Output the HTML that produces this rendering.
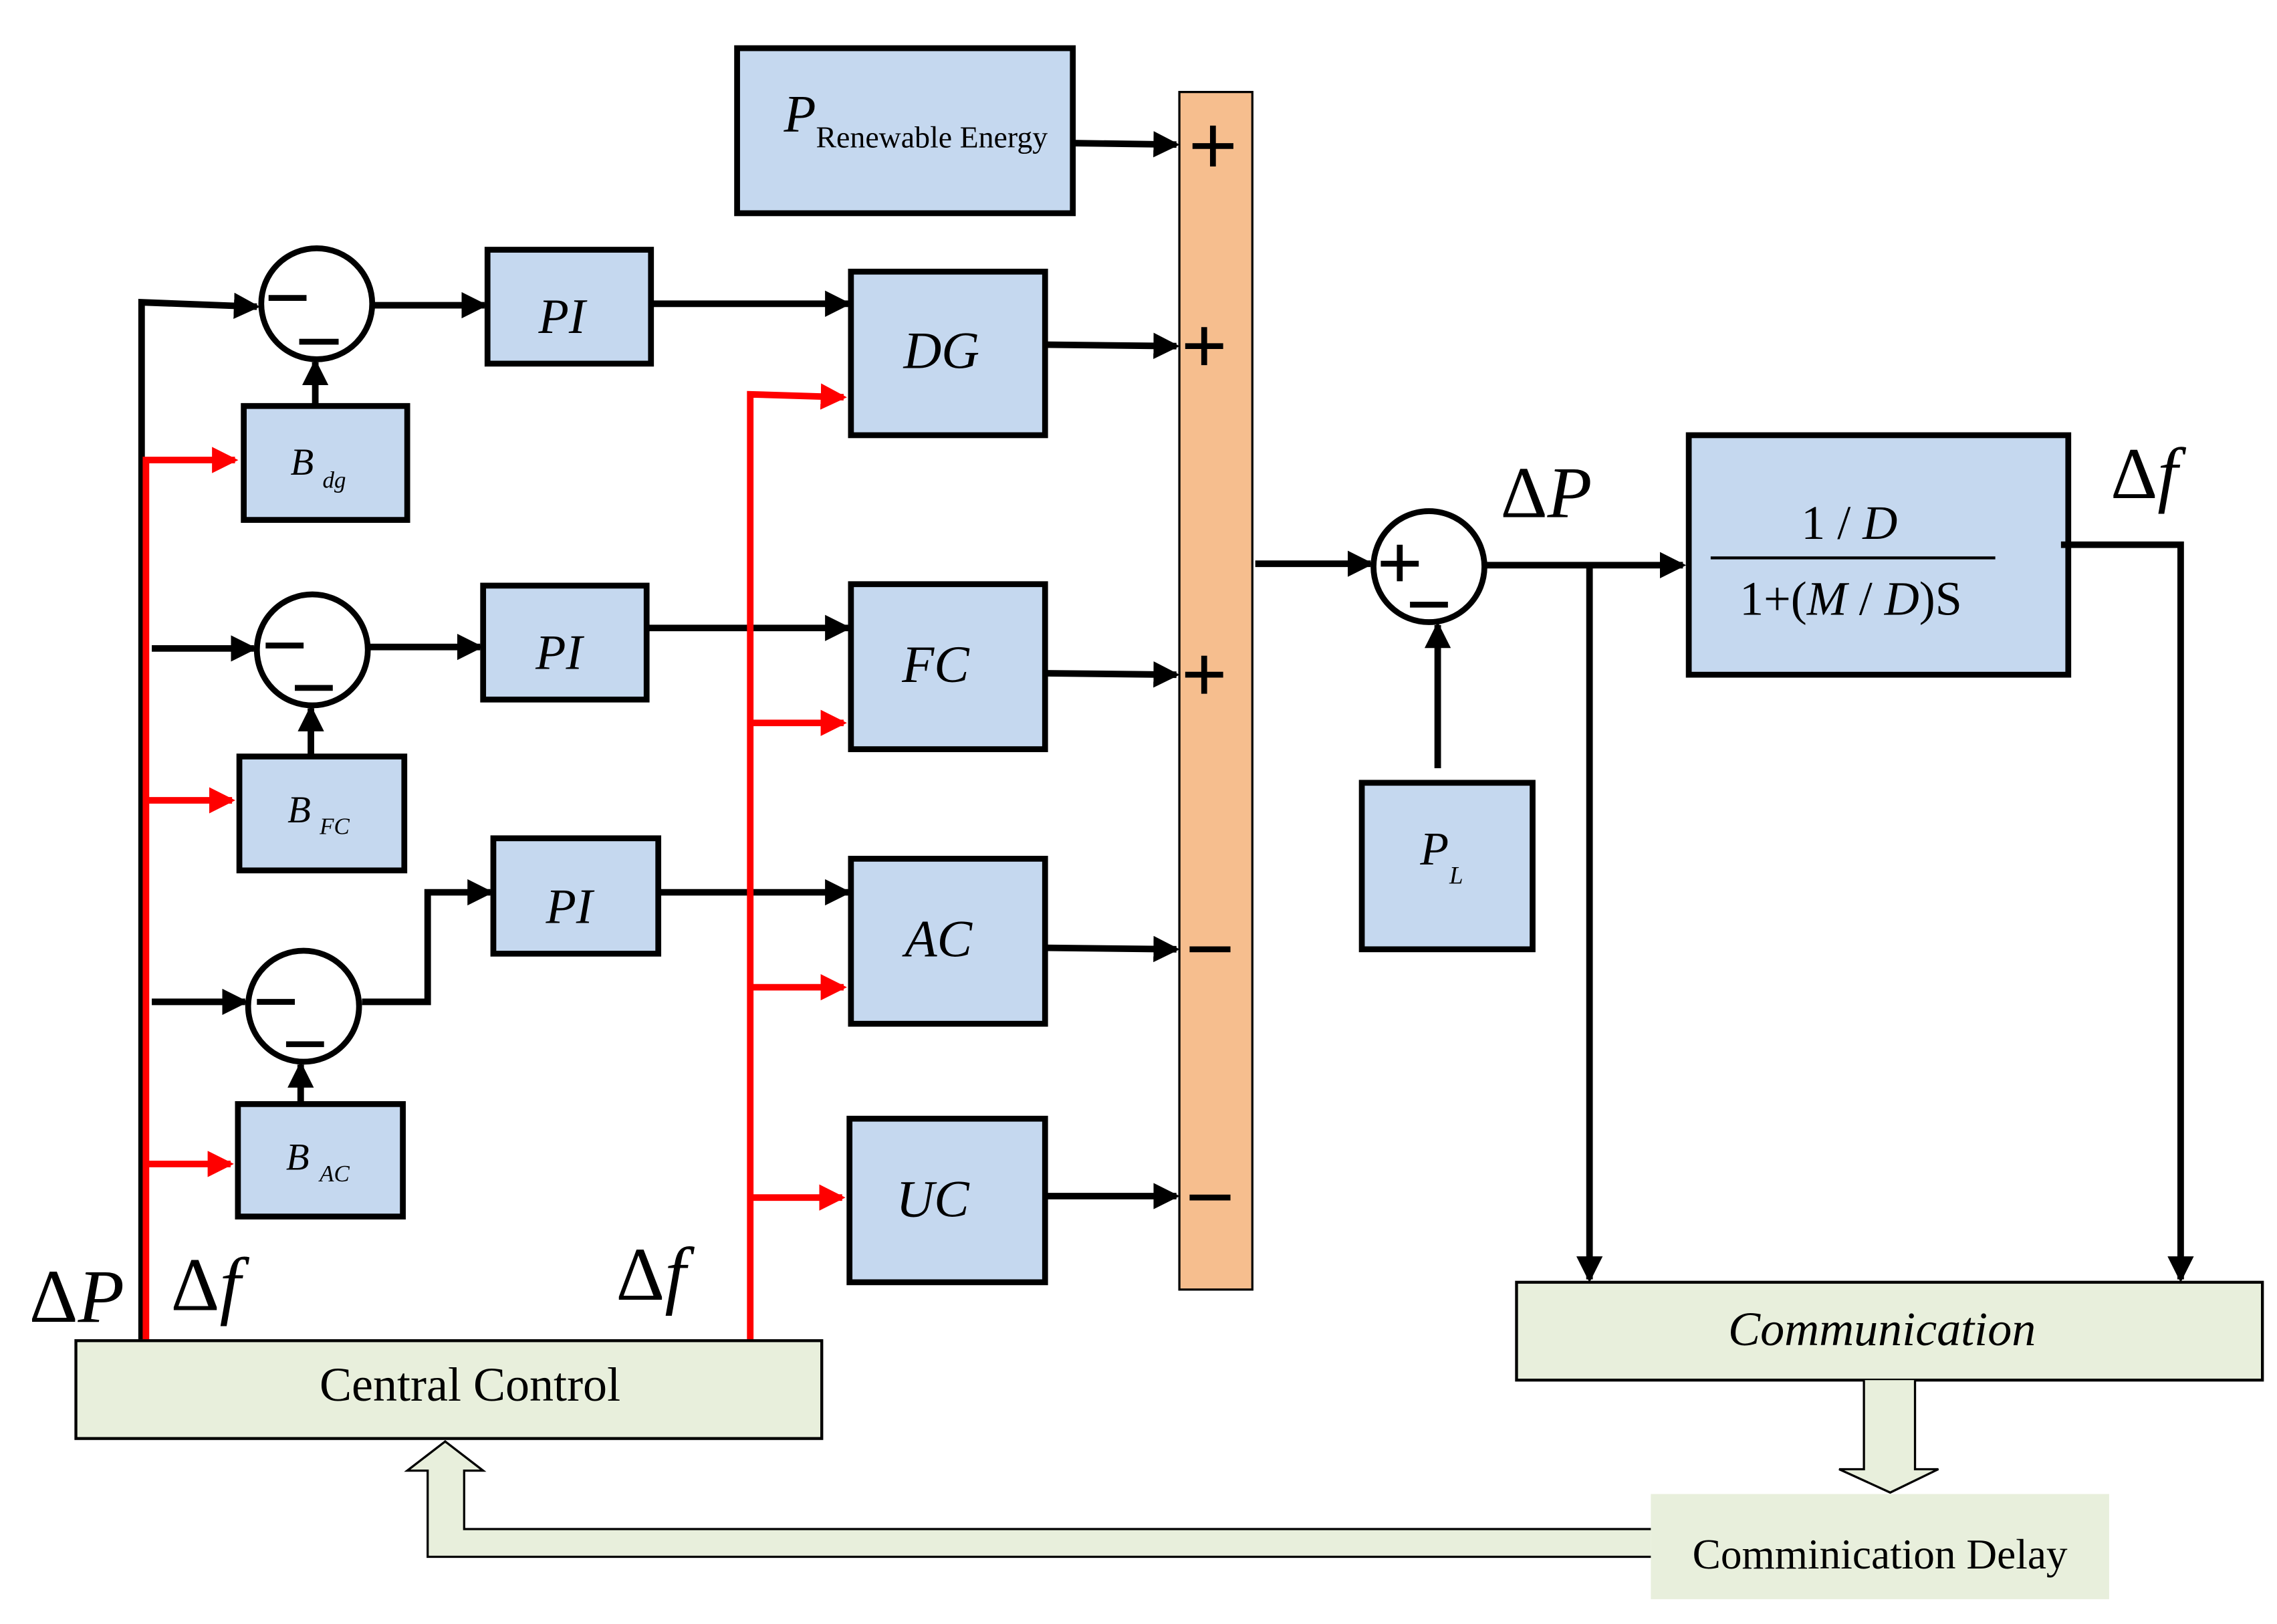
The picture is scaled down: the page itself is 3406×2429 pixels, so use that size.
<!DOCTYPE html>
<html><head><meta charset="utf-8"><style>
html,body{margin:0;padding:0;background:#fff;}
svg{display:block;}
text{font-family:"Liberation Serif",serif;}
</style></head><body>
<svg width="3406" height="2429" viewBox="0 0 1560 1112" preserveAspectRatio="none" xmlns="http://www.w3.org/2000/svg">
<defs>
<marker id="ab" markerWidth="4" markerHeight="4" refX="3.5" refY="2" orient="auto" markerUnits="strokeWidth"><path d="M0,0 L4,2 L0,4 z" fill="#000"/></marker>
<marker id="ar" markerWidth="4" markerHeight="4" refX="3.5" refY="2" orient="auto" markerUnits="strokeWidth"><path d="M0,0 L4,2 L0,4 z" fill="#f00"/></marker>
</defs>
<g fill="#c5d8ef" stroke="#000" stroke-width="4">
<rect x="505" y="33" width="230" height="113"/>
<rect x="334" y="171" width="112" height="78"/>
<rect x="331" y="401" width="112" height="78"/>
<rect x="338" y="574" width="113" height="79"/>
<rect x="583" y="186" width="133" height="112"/>
<rect x="583" y="400" width="133" height="113"/>
<rect x="583" y="588" width="133" height="113"/>
<rect x="582" y="766" width="134" height="112"/>
<rect x="167" y="278" width="112" height="78"/>
<rect x="164" y="518" width="113" height="78"/>
<rect x="163" y="756" width="113" height="77"/>
<rect x="933" y="536" width="117" height="114"/>
<rect x="1157" y="298" width="260" height="164"/>
</g>
<rect x="808" y="63" width="50" height="820" fill="#f6be8e" stroke="#000" stroke-width="1.5"/>
<g fill="#e8efdc" stroke="#000" stroke-width="2">
<rect x="52" y="918" width="511" height="67"/>
<rect x="1039" y="878" width="511" height="67"/>
</g>
<rect x="1131" y="1023" width="314" height="72" fill="#e8efdc"/>
<path d="M1277,945 L1277,1006 L1260,1006 L1295,1022 L1328,1006 L1312,1006 L1312,945" fill="#e8efdc" stroke="#000" stroke-width="1.5"/>
<path d="M1131,1047 L318,1047 L318,1007 L331,1007 L305,987 L279,1007 L293,1007 L293,1066 L1131,1066" fill="#e8efdc" stroke="#000" stroke-width="1.5"/>
<g fill="#fff" stroke="#000" stroke-width="4">
<ellipse cx="217" cy="208" rx="38" ry="38"/>
<ellipse cx="214" cy="445" rx="38" ry="38"/>
<ellipse cx="208" cy="689" rx="38" ry="38"/>
<ellipse cx="979" cy="388" rx="38" ry="38"/>
</g>
<g stroke="#000" stroke-width="4">
<line x1="184" y1="204" x2="210" y2="204"/><line x1="205" y1="234" x2="232" y2="234"/>
<line x1="182" y1="442" x2="208" y2="442"/><line x1="202" y1="471" x2="228" y2="471"/>
<line x1="176" y1="686" x2="202" y2="686"/><line x1="196" y1="715" x2="222" y2="715"/>
<line x1="946" y1="386" x2="972" y2="386"/><line x1="959" y1="373" x2="959" y2="398"/>
<line x1="966" y1="414" x2="992" y2="414"/>
</g>
<g stroke="#000" stroke-width="4.5" fill="none" marker-end="url(#ab)">
<path d="M97,917 L97,207 L176,210"/>
<line x1="104" y1="444" x2="174" y2="444"/>
<line x1="104" y1="686" x2="168" y2="686"/>
<line x1="256" y1="209" x2="332" y2="209"/>
<line x1="253" y1="443" x2="329" y2="443"/>
<path d="M248,686 L293,686 L293,611 L336,611"/>
<line x1="446" y1="208" x2="581" y2="208"/>
<line x1="443" y1="430" x2="581" y2="430"/>
<line x1="451" y1="611" x2="581" y2="611"/>
<line x1="216" y1="278" x2="216" y2="248"/>
<line x1="213" y1="518" x2="213" y2="485"/>
<line x1="206" y1="756" x2="206" y2="729"/>
<line x1="735" y1="98" x2="806" y2="99"/>
<line x1="716" y1="236" x2="806" y2="237"/>
<line x1="716" y1="461" x2="806" y2="462"/>
<line x1="716" y1="649" x2="806" y2="650"/>
<line x1="716" y1="819" x2="806" y2="819"/>
<line x1="860" y1="386" x2="939" y2="386"/>
<line x1="985" y1="526" x2="985" y2="428"/>
<line x1="1018" y1="387" x2="1153" y2="387"/>
<line x1="1089" y1="387" x2="1089" y2="876"/>
<path d="M1412,373 L1494,373 L1494,876"/>
</g>
<g stroke="#f00" stroke-width="4.5" fill="none" marker-end="url(#ar)">
<path d="M100,917 L100,315 L161,315"/>
<line x1="100" y1="548" x2="159" y2="548"/>
<line x1="100" y1="797" x2="158" y2="797"/>
<path d="M514,917 L514,270 L578,272"/>
<line x1="514" y1="495" x2="578" y2="495"/>
<line x1="514" y1="676" x2="578" y2="676"/>
<line x1="514" y1="820" x2="577" y2="820"/>
</g>
<g stroke="#000" stroke-width="4">
<line x1="817" y1="100" x2="845" y2="100"/><line x1="831" y1="86" x2="831" y2="114"/>
<line x1="812" y1="237" x2="838" y2="237"/><line x1="825" y1="224" x2="825" y2="250"/>
<line x1="812" y1="462" x2="838" y2="462"/><line x1="825" y1="449" x2="825" y2="475"/>
<line x1="815" y1="650" x2="843" y2="650"/>
<line x1="815" y1="820" x2="843" y2="820"/>
</g>
<line x1="1172" y1="382" x2="1367" y2="382" stroke="#000" stroke-width="2"/>
<g font-style="italic" fill="#000">
<text x="537" y="90" font-size="36">P</text>
<text x="645" y="252" font-size="36" text-anchor="middle">DG</text>
<text x="385" y="228" font-size="34" text-anchor="middle">PI</text>
<text x="383" y="458" font-size="34" text-anchor="middle">PI</text>
<text x="390" y="632" font-size="34" text-anchor="middle">PI</text>
<text x="641" y="467" font-size="36" text-anchor="middle">FC</text>
<text x="643" y="655" font-size="36" text-anchor="middle">AC</text>
<text x="639" y="833" font-size="36" text-anchor="middle">UC</text>
<text x="199" y="325" font-size="26">B</text><text x="221" y="334" font-size="16">dg</text>
<text x="197" y="563" font-size="26">B</text><text x="219" y="571" font-size="16">FC</text>
<text x="196" y="801" font-size="26">B</text><text x="219" y="809" font-size="16">AC</text>
<text x="973" y="592" font-size="32">P</text><text x="993" y="605" font-size="17">L</text>
<text x="1184" y="921" font-size="33">Communication</text>
</g>
<text x="559" y="101" font-size="21">Renewable Energy</text>
<text x="322" y="959" font-size="33" text-anchor="middle">Central Control</text>
<text x="1288" y="1074" font-size="29" text-anchor="middle">Comminication Delay</text>
<text x="1267" y="369" font-size="33" text-anchor="middle">1 / <tspan font-style="italic">D</tspan></text>
<text x="1268" y="421" font-size="33" text-anchor="middle">1+(<tspan font-style="italic">M</tspan> / <tspan font-style="italic">D</tspan>)S</text>
<text x="20" y="905" font-size="52">Δ<tspan font-style="italic">P</tspan></text>
<text x="117" y="897" font-size="52">Δ<tspan font-style="italic">f</tspan></text>
<text x="422" y="890" font-size="52">Δ<tspan font-style="italic">f</tspan></text>
<text x="1028" y="354" font-size="50">Δ<tspan font-style="italic">P</tspan></text>
<text x="1446" y="341" font-size="50">Δ<tspan font-style="italic">f</tspan></text>
</svg>
</body></html>
